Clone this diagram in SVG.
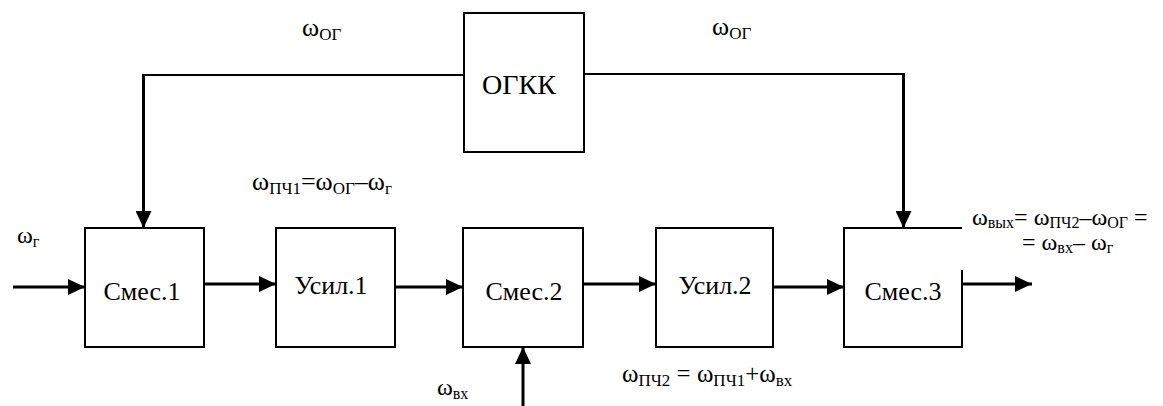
<svg xmlns="http://www.w3.org/2000/svg" width="1163" height="406" viewBox="0 0 1163 406">
<style>
text{font-family:'Liberation Serif','Times New Roman',serif;fill:#000}
.box{fill:#fff;stroke:#000;stroke-width:2}
.lbl{font-size:26px;text-anchor:middle}
.w{font-size:24px}
.s{font-size:16px}
.w2{font-size:26px}
.s2{font-size:17px}
.ln{fill:none;stroke:#000;stroke-width:2}
.ar{fill:none;stroke:#000;stroke-width:3}
</style>
<defs>
<marker id="ah" markerUnits="userSpaceOnUse" markerWidth="17" markerHeight="16" refX="17" refY="8" orient="auto">
<path d="M0,0 L17,8 L0,16 Z" fill="#000"/>
</marker>
</defs>
<rect width="1163" height="406" fill="#fff"/>
<g id="connectors">
<polyline class="ln" points="464,75 143,75"/>
<line class="ar" x1="143.5" y1="74" x2="143.5" y2="228" marker-end="url(#ah)"/>
<polyline class="ln" points="584,74 903,74"/>
<line class="ar" x1="903.5" y1="73" x2="903.5" y2="228" marker-end="url(#ah)"/>
<line class="ar" x1="13" y1="287" x2="85" y2="287" marker-end="url(#ah)"/>
<line class="ar" x1="203" y1="284" x2="276" y2="284" marker-end="url(#ah)"/>
<line class="ar" x1="391" y1="287" x2="463" y2="287" marker-end="url(#ah)"/>
<line class="ar" x1="583" y1="284" x2="656" y2="284" marker-end="url(#ah)"/>
<line class="ar" x1="773" y1="287" x2="844" y2="287" marker-end="url(#ah)"/>
<line class="ar" x1="956" y1="284" x2="1032" y2="284" marker-end="url(#ah)"/>
<line class="ar" x1="523" y1="406" x2="523" y2="347" marker-end="url(#ah)"/>
</g>
<g id="ogkk"><rect class="box" x="464" y="13" width="120" height="139"/><text class="lbl" x="519" y="94" style="font-size:28px">ОГКК</text></g>
<g id="smes1"><rect class="box" x="85" y="228" width="119" height="119"/><text class="lbl" x="142" y="300">Смес.1</text></g>
<g id="usil1"><rect class="box" x="276" y="228" width="119" height="119"/><text class="lbl" x="331" y="294">Усил.1</text></g>
<g id="smes2"><rect class="box" x="463" y="228" width="120" height="119"/><text class="lbl" x="524" y="300">Смес.2</text></g>
<g id="usil2"><rect class="box" x="656" y="228" width="117" height="119"/><text class="lbl" x="715" y="294">Усил.2</text></g>
<g id="smes3"><path class="box" d="M962,270 V347 H844 V228 H962"/><text class="lbl" x="903" y="300">Смес.3</text></g>
<g id="labels">
<text class="w2" x="302" y="36">ω<tspan class="s2" dy="4">ОГ</tspan></text>
<text class="w2" x="712" y="35">ω<tspan class="s2" dy="4">ОГ</tspan></text>
<text class="w" x="17" y="243">ω<tspan class="s" dy="4">г</tspan></text>
<text class="w2" x="252" y="190">ω<tspan class="s2" dy="4">ПЧ1</tspan><tspan dy="-4">=ω</tspan><tspan class="s2" dy="4">ОГ</tspan><tspan dy="-4">–ω</tspan><tspan class="s2" dy="4">г</tspan></text>
<text class="w" x="972" y="225">ω<tspan class="s" dy="3">вых</tspan><tspan dy="-3">= ω</tspan><tspan class="s" dy="3">ПЧ2</tspan><tspan dy="-3">–ω</tspan><tspan class="s" dy="3">ОГ</tspan><tspan dy="-3"> =</tspan></text>
<text class="w" x="1022" y="250">= ω<tspan class="s" dy="3">вх</tspan><tspan dy="-3">– ω</tspan><tspan class="s" dy="3">г</tspan></text>
<text class="w" x="437" y="395">ω<tspan class="s" dy="4">вх</tspan></text>
<text class="w" x="622" y="382" style="font-size:25px">ω<tspan class="s2" dy="4">ПЧ2</tspan><tspan dy="-4"> = ω</tspan><tspan class="s2" dy="4">ПЧ1</tspan><tspan dy="-4">+ω</tspan><tspan class="s2" dy="4">вх</tspan></text>
</g>
</svg>
